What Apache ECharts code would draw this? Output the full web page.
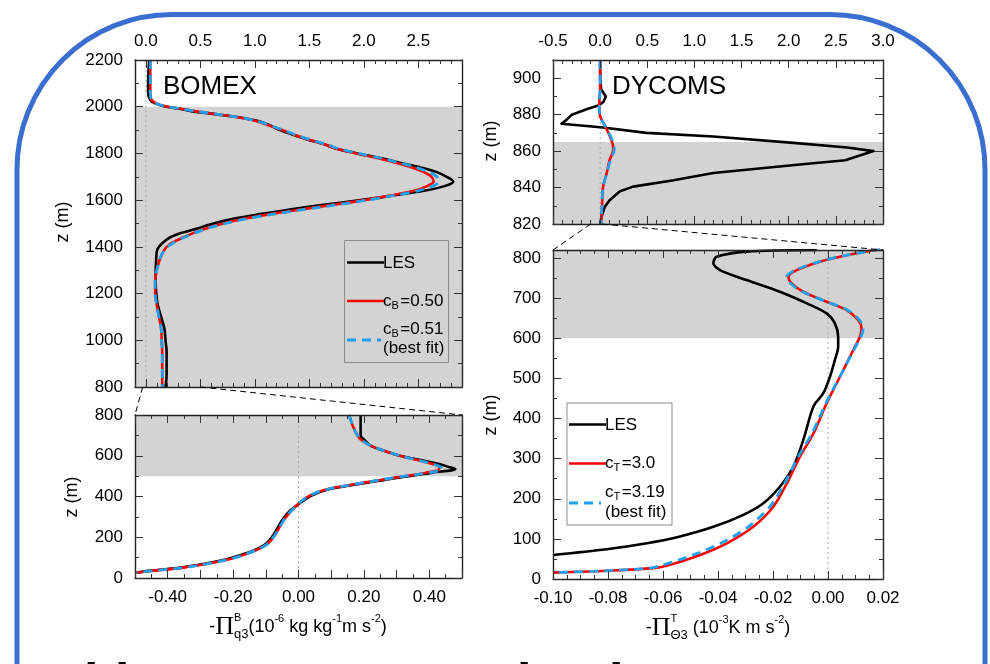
<!DOCTYPE html>
<html><head><meta charset="utf-8">
<script src="https://cdn.jsdelivr.net/npm/echarts@6/dist/echarts.min.js"></script>
<style>html,body{margin:0;padding:0;background:#fff}#c{width:990px;height:664px}</style>
</head><body><div id="c"></div>
<script>
// ---------------- DATA ----------------
// BOMEX, upper panel (z 800-2200 m), x in top-axis units
const bomexUpZ = [2200,2100,2060,2030,2015,2005,2000,1990,1980,1960,1940,1920,1900,1880,1860,1840,1820,1800,1780,1760,1740,1720,1700,1680,1660,1640,1620,1600,1580,1560,1540,1520,1500,1480,1460,1440,1420,1400,1380,1350,1300,1250,1200,1150,1100,1050,1000,950,900,850,800];
const bomexUpLES = [0.03,0.02,0.02,0.04,0.08,0.14,0.19,0.32,0.43,0.77,1.02,1.14,1.23,1.35,1.48,1.63,1.75,1.94,2.15,2.33,2.52,2.67,2.76,2.82,2.74,2.55,2.27,1.97,1.63,1.32,1.05,0.80,0.62,0.48,0.33,0.22,0.16,0.12,0.10,0.095,0.09,0.09,0.095,0.11,0.14,0.17,0.18,0.19,0.19,0.19,0.18];
const bomexUpC050 = [0.04,0.04,0.04,0.05,0.09,0.15,0.20,0.34,0.46,0.77,1.00,1.13,1.25,1.36,1.49,1.63,1.75,1.93,2.12,2.29,2.44,2.55,2.62,2.64,2.58,2.46,2.24,2.00,1.72,1.42,1.14,0.90,0.71,0.56,0.44,0.34,0.25,0.19,0.16,0.13,0.10,0.085,0.085,0.10,0.12,0.14,0.145,0.15,0.15,0.15,0.15];
const bomexUpC051 = [0.04,0.04,0.04,0.05,0.09,0.15,0.20,0.34,0.46,0.78,1.01,1.14,1.26,1.37,1.50,1.65,1.77,1.95,2.15,2.32,2.48,2.60,2.67,2.69,2.63,2.50,2.28,2.03,1.75,1.45,1.17,0.92,0.73,0.57,0.45,0.35,0.26,0.20,0.16,0.13,0.10,0.085,0.085,0.10,0.12,0.14,0.145,0.15,0.15,0.15,0.15];

// BOMEX, lower panel (z 0-800 m)
const bomexLoZ = [800,750,700,680,650,620,600,580,560,545,535,517,494,468,440,416,391,362,330,291,252,211,185,160,135,111,92,72,51,36,26];
const bomexLoLES = [0.19,0.19,0.19,0.20,0.22,0.27,0.31,0.37,0.43,0.46,0.48,0.41,0.31,0.21,0.106,0.056,0.025,0.0,-0.026,-0.047,-0.062,-0.077,-0.089,-0.106,-0.137,-0.18,-0.22,-0.28,-0.36,-0.45,-0.50];
const bomexLoC050 = [0.155,0.165,0.18,0.19,0.22,0.27,0.31,0.36,0.41,0.43,0.43,0.39,0.30,0.20,0.10,0.05,0.02,-0.002,-0.022,-0.042,-0.057,-0.072,-0.084,-0.101,-0.132,-0.172,-0.212,-0.272,-0.352,-0.442,-0.50];
const bomexLoC051 = [0.155,0.165,0.18,0.19,0.22,0.27,0.31,0.36,0.41,0.435,0.44,0.40,0.30,0.20,0.10,0.05,0.02,-0.002,-0.022,-0.042,-0.057,-0.072,-0.084,-0.101,-0.132,-0.172,-0.212,-0.272,-0.352,-0.442,-0.50];

// DYCOMS, upper panel (z 820-910 m)
const dycUpZLES = [910,900,894,890,887,885,883,880,877,875,873,870,868,864.5,862,860,855,852.5,848,844,840.5,838,833,829.5,824,820];
const dycUpLES = [0,0,0.01,0.06,0.035,-0.02,-0.145,-0.30,-0.36,-0.41,0.03,0.49,1.20,2.05,2.62,2.90,2.60,2.09,1.20,0.78,0.35,0.21,0.10,0.05,0.015,0.0];
const dycUpZMod = [910,895,884,879,874,866,861,855,848,840,830,820];
const dycUpC30 = [0,0,-0.01,0.0,0.05,0.12,0.14,0.10,0.07,0.03,0.02,0.01];
const dycUpC319 = [0,0,-0.01,0.0,0.05,0.13,0.15,0.11,0.07,0.03,0.02,0.01];

// DYCOMS, lower panel (z 0-820 m)
const dycLoZLES = [820,816,803,787,770,745,716,687,662,637,604,579,546,504,463,430,346,280,230,189,160,130,106,89,74,60];
const dycLoLES = [-0.0041,-0.0296,-0.0405,-0.0417,-0.0393,-0.0296,-0.0175,-0.0077,-0.0005,0.0025,0.0037,0.0037,0.0025,0.0007,-0.0017,-0.0053,-0.0090,-0.0126,-0.0175,-0.0235,-0.0308,-0.0417,-0.0538,-0.0659,-0.0805,-0.0999];
const dycLoZMod = [822,807,791,770,753,737,716,691,670,645,625,604,571,521,471,438,363,305,238,180,130,89,60,33,27,21,16];
const dycLoC30 = [0.019,0.0068,-0.0029,-0.0114,-0.0144,-0.0132,-0.0090,-0.0005,0.0068,0.0110,0.0122,0.0116,0.0092,0.0056,0.0019,-0.0005,-0.0053,-0.0102,-0.0150,-0.0199,-0.0272,-0.0368,-0.0465,-0.0587,-0.0635,-0.0781,-0.0999];
const dycLoC319 = [0.019,0.0068,-0.0032,-0.0118,-0.0150,-0.0136,-0.0093,-0.0005,0.0072,0.0115,0.0128,0.0120,0.0094,0.0056,0.0017,-0.0008,-0.0058,-0.0108,-0.0158,-0.0212,-0.0290,-0.0390,-0.0490,-0.0610,-0.0650,-0.0790,-0.0999];

// shaded layers (z ranges)
const shadeBomexUp = [800, 2000];
const shadeBomexLo = [500, 800];
const shadeDycUp = [820, 865];
const shadeDycLo = [600, 820];

// tick labels
const xTicksBomexUp = [0, 0.5, 1.0, 1.5, 2.0, 2.5];
const xTicksBomexLo = [-0.4, -0.2, 0, 0.2, 0.4];
const xTicksDycUp = [-0.5, 0, 0.5, 1.0, 1.5, 2.0, 2.5, 3.0];
const xTicksDycLo = [-0.10, -0.08, -0.06, -0.04, -0.02, 0, 0.02];
const yTicksBomexUp = [800, 1000, 1200, 1400, 1600, 1800, 2000, 2200];
const yTicksBomexLo = [0, 200, 400, 600, 800];
const yTicksDycUp = [820, 840, 860, 880, 900];
const yTicksDycLo = [0, 100, 200, 300, 400, 500, 600, 700, 800];

// ---------------- CHART ----------------
const F = '"Liberation Sans", Arial, sans-serif';
const FS = '"Liberation Serif", "Times New Roman", serif';
const TICKFS = 17;
function range(a, b, s) { const r = []; const n = Math.round((b - a) / s); for (let i = 0; i <= n; i++) r.push(+(a + i * s).toFixed(6)); return r; }

function axisSet(grid, o) {
  const base = { type: 'value', gridIndex: grid, min: o.min, max: o.max, splitLine: { show: false }, z: 10, silent: true };
  const ls = { color: '#222', width: 1.4 };
  const tick = (vals, len) => ({ show: true, inside: true, length: len, customValues: vals, lineStyle: { color: '#333', width: 1 } });
  return [
    Object.assign({}, base, { position: o.pos, axisLine: { show: true, onZero: false, lineStyle: ls }, axisTick: tick(o.major, 8),
      axisLabel: { show: true, customValues: o.labels, formatter: o.fmt, margin: o.margin, fontSize: TICKFS, fontFamily: F, color: '#000', hideOverlap: false, showMinLabel: true, showMaxLabel: true } }),
    Object.assign({}, base, { position: o.pos, axisLine: { show: false, onZero: false }, axisTick: tick(o.minor, 4), axisLabel: { show: false } }),
    Object.assign({}, base, { position: o.opp, axisLine: { show: true, onZero: false, lineStyle: ls }, axisTick: tick(o.major, 8), axisLabel: { show: false } }),
    Object.assign({}, base, { position: o.opp, axisLine: { show: false, onZero: false }, axisTick: tick(o.minor, 4), axisLabel: { show: false } })
  ];
}

const grids = [
  { left: 135, top: 60, width: 327, height: 327 },
  { left: 135, top: 415, width: 327, height: 163 },
  { left: 553, top: 60, width: 330, height: 164 },
  { left: 553, top: 250, width: 330, height: 329 }
];

const f1 = v => v.toFixed(1), f2 = v => v.toFixed(2), f0 = v => String(Math.round(v));
const xAxes = [].concat(
  axisSet(0, { min: -0.1, max: 2.9, major: xTicksBomexUp, minor: range(-0.1, 2.9, 0.1), labels: xTicksBomexUp, fmt: f1, pos: 'top', opp: 'bottom', margin: 10 }),
  axisSet(1, { min: -0.5, max: 0.5, major: range(-0.5, 0.5, 0.1), minor: range(-0.5, 0.5, 0.05), labels: xTicksBomexLo, fmt: f2, pos: 'bottom', opp: 'top', margin: 11 }),
  axisSet(2, { min: -0.5, max: 3.0, major: xTicksDycUp, minor: range(-0.5, 3.0, 0.1), labels: xTicksDycUp, fmt: f1, pos: 'top', opp: 'bottom', margin: 10 }),
  axisSet(3, { min: -0.10, max: 0.02, major: xTicksDycLo, minor: range(-0.10, 0.02, 0.005), labels: xTicksDycLo, fmt: f2, pos: 'bottom', opp: 'top', margin: 11 })
);
const yAxes = [].concat(
  axisSet(0, { min: 800, max: 2200, major: yTicksBomexUp, minor: range(800, 2200, 100), labels: yTicksBomexUp, fmt: f0, pos: 'left', opp: 'right', margin: 12 }),
  axisSet(1, { min: 0, max: 800, major: yTicksBomexLo, minor: range(0, 800, 100), labels: yTicksBomexLo, fmt: f0, pos: 'left', opp: 'right', margin: 12 }),
  axisSet(2, { min: 820, max: 910, major: yTicksDycUp, minor: range(820, 910, 10), labels: yTicksDycUp, fmt: f0, pos: 'left', opp: 'right', margin: 12 }),
  axisSet(3, { min: 0, max: 820, major: yTicksDycLo, minor: range(0, 820, 50), labels: yTicksDycLo, fmt: f0, pos: 'left', opp: 'right', margin: 12 })
);

function zip(xs, zs) { return xs.map((v, i) => [v, zs[i]]); }
function ser(g, xs, zs, color, width, dashed, smooth, z) {
  return { type: 'line', xAxisIndex: 4 * g, yAxisIndex: 4 * g, data: zip(xs, zs), symbol: 'none', showSymbol: false,
    smooth: smooth, silent: true, z: z, animation: false, clip: true,
    lineStyle: { color: color, width: width, type: dashed ? [9, 6] : 'solid', cap: 'butt', join: 'round' } };
}
function base(g, ymin, ymax, shade) {
  return { type: 'line', xAxisIndex: 4 * g, yAxisIndex: 4 * g, data: [[0, ymin], [0, ymax]], symbol: 'none', silent: true, z: 1, animation: false,
    lineStyle: { color: '#aaa', width: 1, type: [2, 3] },
    markArea: { silent: true, itemStyle: { color: '#d3d3d3' }, data: [[{ yAxis: shade[0] }, { yAxis: shade[1] }]] } };
}
const BLK = '#000', RED = '#ff0000', BLU = '#1ba1ef';
const series = [
  base(0, 800, 2200, shadeBomexUp),
  ser(0, bomexUpLES, bomexUpZ, BLK, 2.6, false, 0.3, 3),
  ser(0, bomexUpC050, bomexUpZ, RED, 2.6, false, 0.3, 4),
  ser(0, bomexUpC051, bomexUpZ, BLU, 2.8, true, 0.3, 5),
  base(1, 0, 800, shadeBomexLo),
  ser(1, bomexLoLES, bomexLoZ, BLK, 2.6, false, 0.35, 3),
  ser(1, bomexLoC050, bomexLoZ, RED, 2.6, false, 0.35, 4),
  ser(1, bomexLoC051, bomexLoZ, BLU, 2.8, true, 0.35, 5),
  base(2, 820, 910, shadeDycUp),
  ser(2, dycUpLES, dycUpZLES, BLK, 2.6, false, false, 3),
  ser(2, dycUpC30, dycUpZMod, RED, 2.6, false, 0.3, 4),
  ser(2, dycUpC319, dycUpZMod, BLU, 2.8, true, 0.3, 5),
  base(3, 0, 820, shadeDycLo),
  ser(3, dycLoLES, dycLoZLES, BLK, 2.6, false, 0.3, 3),
  ser(3, dycLoC30, dycLoZMod, RED, 2.6, false, 0.3, 4),
  ser(3, dycLoC319, dycLoZMod, BLU, 2.8, true, 0.3, 5)
];

const chart = echarts.init(document.getElementById('c'), null, { renderer: 'canvas' });
chart.setOption({ animation: false, backgroundColor: '#fff', grid: grids, xAxis: xAxes, yAxis: yAxes, series: series });

// ---------------- DECORATIONS ----------------
const cv = document.createElement('canvas').getContext('2d');
function tw(t, size, fam) { cv.font = size + 'px ' + fam; return cv.measureText(t).width; }
function txt(x, y, t, size, fam, opts) {
  opts = opts || {};
  return { type: 'text', x: x, y: y, rotation: opts.rot || 0, z: 100,
    style: { text: t, fontSize: size, fontFamily: fam || F, fontWeight: opts.weight || 'normal', fill: opts.fill || '#000',
      align: opts.align || 'left', verticalAlign: 'middle', textAlign: opts.align || 'left', textVerticalAlign: 'middle' } };
}
function row(x, y, parts, align) {
  const widths = parts.map(p => p.stack ? Math.max.apply(null, p.stack.map(s => tw(s.t, s.s, s.f || F))) : tw(p.t, p.s, p.f || F) + (p.gap || 0));
  const total = widths.reduce((a, b) => a + b, 0);
  let cx = align === 'center' ? x - total / 2 : x;
  const out = [];
  parts.forEach((p, i) => {
    if (p.stack) p.stack.forEach(s => out.push(txt(cx, y + s.dy, s.t, s.s, s.f || F)));
    else out.push(txt(cx, y + (p.dy || 0), p.t, p.s, p.f || F));
    cx += widths[i];
  });
  return out;
}
const px = (g, v) => chart.convertToPixel({ xAxisIndex: 4 * g, yAxisIndex: 4 * g }, v);
function dline(a, b) {
  return { type: 'line', z: 50, shape: { x1: a[0], y1: a[1], x2: b[0], y2: b[1] }, style: { stroke: '#000', lineWidth: 1, lineDash: [6, 4] } };
}
function sline(x1, y1, x2, y2, color, w, dash) {
  return { type: 'line', z: 100, shape: { x1: x1, y1: y1, x2: x2, y2: y2 }, style: { stroke: color, lineWidth: w, lineDash: dash || null } };
}

const g = [];
// frame
g.push({ type: 'rect', z: 200, shape: { x: 17, y: 14.5, width: 968, height: 720, r: [155, 155, 0, 0] }, style: { fill: null, stroke: '#3a6fd0', lineWidth: 5 } });
// panel titles
g.push(txt(163, 87, 'BOMEX', 26, F));
g.push(txt(612, 87, 'DYCOMS', 26, F));
// y axis titles
g.push(txt(63, 222, 'z (m)', 18, F, { rot: Math.PI / 2, align: 'center' }));
g.push(txt(72, 497, 'z (m)', 18, F, { rot: Math.PI / 2, align: 'center' }));
g.push(txt(491, 141, 'z (m)', 18, F, { rot: Math.PI / 2, align: 'center' }));
g.push(txt(491, 415, 'z (m)', 18, F, { rot: Math.PI / 2, align: 'center' }));
// x axis titles
Array.prototype.push.apply(g, row(298, 627, [
  { t: '-', s: 18 }, { t: 'Π', s: 26, f: FS },
  { stack: [{ t: 'B', s: 11, dy: -9 }, { t: 'q3', s: 13, dy: 7 }] },
  { t: '(10', s: 18 }, { t: '-6', s: 11, dy: -8 }, { t: ' kg kg', s: 18 }, { t: '-1', s: 11, dy: -8 },
  { t: 'm s', s: 18 }, { t: '-2', s: 11, dy: -8 }, { t: ')', s: 18 }
], 'center'));
Array.prototype.push.apply(g, row(718, 628, [
  { t: '-', s: 18 }, { t: 'Π', s: 26, f: FS },
  { stack: [{ t: 'T', s: 11, dy: -9 }, { t: 'Θ3', s: 13, dy: 7 }] },
  { t: ' (10', s: 18 }, { t: '-3', s: 11, dy: -8 }, { t: 'K m s', s: 18 }, { t: '-2', s: 11, dy: -8 }, { t: ')', s: 18 }
], 'center'));
// legend BOMEX
g.push({ type: 'rect', z: 90, shape: { x: 344.5, y: 240.5, width: 104, height: 122 }, style: { fill: null, stroke: '#8c8c8c', lineWidth: 1 } });
g.push(sline(347, 262.5, 384, 262.5, BLK, 2.6));
g.push(txt(383, 263, 'LES', 17, F));
g.push(sline(347, 301, 384, 301, RED, 2.6));
Array.prototype.push.apply(g, row(383, 301, [{ t: 'c', s: 17 }, { t: 'B', s: 11, dy: 5, gap: 1.5 }, { t: '=0.50', s: 17 }]));
g.push(sline(347, 340, 381, 340, BLU, 2.8, [9, 6]));
Array.prototype.push.apply(g, row(383, 329, [{ t: 'c', s: 17 }, { t: 'B', s: 11, dy: 5, gap: 1.5 }, { t: '=0.51', s: 17 }]));
g.push(txt(383, 348, '(best fit)', 17, F));
// legend DYCOMS
g.push({ type: 'rect', z: 90, shape: { x: 567, y: 403, width: 105, height: 122 }, style: { fill: '#fff', stroke: '#8c8c8c', lineWidth: 1 } });
g.push(sline(569, 424.5, 606, 424.5, BLK, 2.6));
g.push(txt(605, 425, 'LES', 17, F));
g.push(sline(569, 463.5, 606, 463.5, RED, 2.6));
Array.prototype.push.apply(g, row(605, 463, [{ t: 'c', s: 17 }, { t: 'T', s: 11, dy: 5, gap: 1.5 }, { t: '=3.0', s: 17 }]));
g.push(sline(569, 503, 601, 503, BLU, 2.8, [9, 6]));
Array.prototype.push.apply(g, row(605, 492, [{ t: 'c', s: 17 }, { t: 'T', s: 11, dy: 5, gap: 1.5 }, { t: '=3.19', s: 17 }]));
g.push(txt(605, 512, '(best fit)', 17, F));
// zoom connectors
g.push(dline(px(0, [-0.03, 800]), px(1, [-0.5, 800])));
g.push(dline(px(0, [0.5, 800]), px(1, [0.5, 800])));
g.push(dline(px(2, [-0.1, 820]), px(3, [-0.10, 820])));
g.push(dline(px(2, [0.02, 820]), px(3, [0.02, 820])));
// clipped large heading text at the bottom edge
[[84, 'l'], [115, 'l'], [517, 'l'], [609, 'l']].forEach(a => g.push(txt(a[0], 686, a[1], 52, F, { weight: 'bold' })));

chart.setOption({ graphic: g });
</script></body></html>
